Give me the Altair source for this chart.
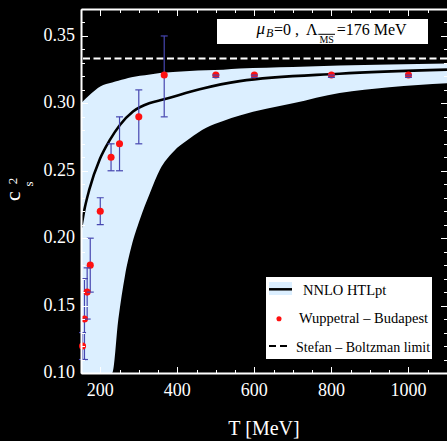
import altair as alt
import pandas as pd

# ---------------- data ----------------
# Wuppertal-Budapest lattice points
T_lat = [154, 159, 166, 174, 200, 228, 250, 300, 366, 500, 600, 800, 1000]
cs2_lat = [0.120, 0.140, 0.160, 0.180, 0.220, 0.260, 0.270, 0.290, 0.321, 0.321, 0.321, 0.321, 0.321]
err_lo = [0.110, 0.110, 0.140, 0.160, 0.210, 0.250, 0.250, 0.270, 0.290, 0.3193, 0.3193, 0.3193, 0.3193]
err_hi = [0.130, 0.170, 0.178, 0.200, 0.230, 0.270, 0.290, 0.310, 0.350, 0.3210, 0.3210, 0.3210, 0.3210]

# NNLO HTLpt band (lower / upper edge)
band_T = [150, 175, 200, 231, 247, 264, 281, 303, 329, 355, 389, 432, 475, 519, 562, 700, 821, 950, 1100]
band_lo = [0.100, 0.100, 0.100, 0.100, 0.140, 0.172, 0.194, 0.214, 0.2335, 0.251, 0.264, 0.274, 0.282,
           0.287, 0.291, 0.300, 0.3077, 0.312, 0.315]
band_hi = [0.300, 0.307, 0.3126, 0.3155, 0.3168, 0.318, 0.3193, 0.3205, 0.3215, 0.3225, 0.3233, 0.324,
           0.3245, 0.325, 0.3258, 0.327, 0.328, 0.3288, 0.3295]

# NNLO HTLpt central line
line_T = [150, 152.6, 158, 171.5, 199, 225, 251, 285, 329, 363, 458, 562, 821, 1100]
line_v = [0.208, 0.2113, 0.220, 0.236, 0.2587, 0.2729, 0.284, 0.294, 0.3003, 0.3028, 0.3105, 0.3165, 0.322, 0.325]

SB_LIMIT = 1 / 3

x_labels = [200, 400, 600, 800, 1000]
x_major = [200, 400, 600, 800, 1000]
x_minor = [150, 200, 250, 300, 350, 400, 450, 500, 550, 600, 650, 700, 750, 800, 850, 900, 950, 1000, 1050, 1100]
y_labels = [0.10, 0.15, 0.20, 0.25, 0.30, 0.35]
y_major = [0.10, 0.15, 0.20, 0.25, 0.30, 0.35]
y_minor = [0.10, 0.11, 0.12, 0.13, 0.14, 0.15, 0.16, 0.17, 0.18, 0.19, 0.20, 0.21, 0.22, 0.23, 0.24, 0.25,
           0.26, 0.27, 0.28, 0.29, 0.30, 0.31, 0.32, 0.33, 0.34, 0.35, 0.36, 0.37]

legend_labels = ["NNLO  HTLpt", "Wuppetral – Budapest", "Stefan – Boltzman  limit"]

# ---------------- chart ----------------
W, H = 366, 364
FONT = "Liberation Serif"
BAND = "#dcefff"
ERR = "#4646b0"

xs = alt.Scale(domain=[150, 1100], nice=False, zero=False)
ys = alt.Scale(domain=[0.10, 0.37], nice=False, zero=False)

band_df = pd.DataFrame({"T": band_T, "lo": band_lo, "hi": band_hi})
line_df = pd.DataFrame({"T": line_T, "v": line_v})
pts_df = pd.DataFrame({"T": T_lat, "v": cs2_lat, "lo": err_lo, "hi": err_hi})
sb_df = pd.DataFrame({"v": [SB_LIMIT]})
xlab_df = pd.DataFrame({"T": x_labels, "lab": [str(v) for v in x_labels]})
ylab_df = pd.DataFrame({"v": y_labels, "lab": [f"{v:.2f}" for v in y_labels]})
one = pd.DataFrame({"k": [0]})


def tick_axis(orient, offset, values, size, domain=False):
    return alt.Axis(orient=orient, offset=offset, values=values, tickSize=size, ticks=True,
                    labels=False, domain=domain, domainColor="white", domainWidth=2,
                    tickColor="white", tickWidth=1, grid=False, title="", zindex=2)


band = alt.Chart(band_df).mark_area(color=BAND, clip=True, interpolate="monotone").encode(
    x=alt.X("T:Q", scale=xs, axis=tick_axis("bottom", 0, x_major, 0.1, domain=True)),
    y=alt.Y("lo:Q", scale=ys, axis=tick_axis("left", 0, y_major, 0.1, domain=True)),
    y2="hi:Q",
)

sb = alt.Chart(sb_df).mark_rule(color="white", strokeWidth=2, strokeDash=[7, 3.5]).encode(
    y=alt.Y("v:Q", scale=ys, axis=None),
)

line = alt.Chart(line_df).mark_line(color="black", strokeWidth=2.6, clip=True, interpolate="monotone").encode(
    x=alt.X("T:Q", scale=xs, axis=tick_axis("top", -H, x_minor, 3.5)),
    y=alt.Y("v:Q", scale=ys, axis=tick_axis("right", -W, y_minor, 3.5)),
)

bars = alt.Chart(pts_df).mark_rule(color=ERR, strokeWidth=1.2).encode(
    x=alt.X("T:Q", scale=xs, axis=tick_axis("bottom", -H, x_minor, 3.5, domain=True)),
    y=alt.Y("lo:Q", scale=ys, axis=tick_axis("left", -W, y_minor, 3.5)),
    y2="hi:Q",
)

pts = alt.Chart(pts_df).mark_circle(color="#ff1010", size=50, opacity=1).encode(
    x=alt.X("T:Q", scale=xs, axis=tick_axis("top", -H, x_major, 6.5)),
    y=alt.Y("v:Q", scale=ys, axis=tick_axis("right", -W, y_major, 6.5)),
)

caps_lo = alt.Chart(pts_df).mark_tick(orient="horizontal", color=ERR, size=7, thickness=1.2, opacity=1).encode(
    x=alt.X("T:Q", scale=xs, axis=tick_axis("bottom", -H, x_major, 6.5)),
    y=alt.Y("lo:Q", scale=ys, axis=tick_axis("left", -W, y_major, 6.5)),
)
caps_hi = alt.Chart(pts_df).mark_tick(orient="horizontal", color=ERR, size=7, thickness=1.2, opacity=1).encode(
    x=alt.X("T:Q", scale=xs, axis=None),
    y=alt.Y("hi:Q", scale=ys, axis=None),
)

# tick labels drawn through the scales
xlabels = alt.Chart(xlab_df).mark_text(font=FONT, fontSize=18, color="white", baseline="top", align="center").encode(
    x=alt.X("T:Q", scale=xs, axis=None), y=alt.value(H + 9), text="lab:N")
ylabels = alt.Chart(ylab_df).mark_text(font=FONT, fontSize=18, color="white", baseline="middle", align="right").encode(
    y=alt.Y("v:Q", scale=ys, axis=None), x=alt.value(-6), text="lab:N")


def txt(text, x, y, size, align="left", style="normal", angle=0, color="black", baseline="alphabetic"):
    return alt.Chart(one).mark_text(text=text, font=FONT, fontSize=size, fontStyle=style, align=align,
                                    baseline=baseline, angle=angle, color=color).encode(
        x=alt.value(x), y=alt.value(y))


def rect(x1, x2, y1, y2, color):
    return alt.Chart(one).mark_rect(color=color).encode(
        x=alt.value(x1), x2=alt.value(x2), y=alt.value(y1), y2=alt.value(y2))


def hrule(x1, x2, y, color, width, dash=None):
    kw = dict(color=color, strokeWidth=width)
    if dash:
        kw["strokeDash"] = dash
    return alt.Chart(one).mark_rule(**kw).encode(x=alt.value(x1), x2=alt.value(x2), y=alt.value(y))


# top information box
info = [
    rect(136, 347, 10, 35, "white"),
    txt("μ", 175.5, 24.5, 17, style="italic"),
    txt("B", 185, 28.3, 12, style="italic"),
    txt("=0 ,", 193, 25.5, 16),
    txt("Λ", 225, 25.5, 16),
    hrule(237.3, 254, 25.3, "black", 1),
    txt("MS", 245.7, 34.3, 10, align="center"),
    txt("=176 MeV", 255.7, 25.5, 16),
]

# legend
legend = [
    rect(185, 351, 268, 350, "white"),
    rect(188, 211, 273, 286, BAND),
    hrule(188, 211, 280.3, "black", 2.5),
    txt(legend_labels[0], 222, 286, 14.5),
    alt.Chart(one).mark_circle(color="#ff1010", size=26, opacity=1).encode(x=alt.value(198), y=alt.value(309.7)),
    txt(legend_labels[1], 218, 314.3, 14.5),
    hrule(188, 207, 337, "black", 2, dash=[7, 4]),
    txt(legend_labels[2], 215, 342.7, 14),
]

# axis titles
titles = [
    txt("T [MeV]", 183, 426, 20, align="center", color="white"),
    txt("c", -61, 187, 22, align="center", angle=270, color="white"),
    txt("2", -64, 172, 13, align="center", angle=270, color="white"),
    txt("s", -48, 175, 13, align="center", angle=270, color="white"),
]

chart = alt.layer(band, sb, line, bars, pts, caps_lo, caps_hi, xlabels, ylabels,
                  *info, *legend, *titles).resolve_axis(
    x="independent", y="independent"
).properties(
    width=W, height=H, background="black",
    padding={"left": 81, "top": 9, "right": 0, "bottom": 68},
    autosize=alt.AutoSizeParams(type="none"),
).configure_view(strokeWidth=0, fill="black")

chart.save("out.html", embed_options={"renderer": "svg", "actions": False})
